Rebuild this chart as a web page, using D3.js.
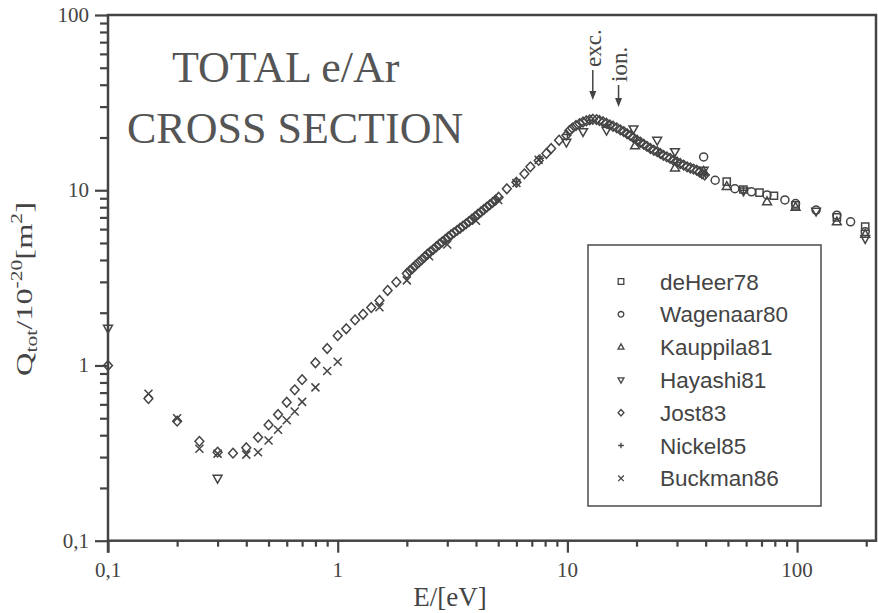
<!DOCTYPE html>
<html><head><meta charset="utf-8">
<script src="https://cdn.jsdelivr.net/npm/d3@7"></script>
<style>body{margin:0;background:#fff}svg{display:block}</style>
</head><body>
<svg id="c" width="878" height="613"></svg>
<script>
// ---------- data ----------
const xTickValues = [0.1, 1, 10, 100];
const xTickLabels = ["0,1", "1", "10", "100"];
const yTickValues = [0.1, 1, 10, 100];
const yTickLabels = ["0,1", "1", "10", "100"];
const seriesNames = ["deHeer78", "Wagenaar80", "Kauppila81", "Hayashi81", "Jost83", "Nickel85", "Buckman86"];
const seriesSymbols = ["square", "circle", "triUp", "triDown", "diamond", "plus", "cross"];

const deHeer78 = [[49.4,11.2],[58.4,10.1],[68.6,9.7],[79.3,9.3],[98.5,8.2],[149,7.0],[198,6.2]];
const wagenaar80 = [[39.2,15.5],[44,11.4],[53.6,10.2],[63.3,9.8],[74,9.4],[88.5,8.8],[98.5,8.4],[121,7.7],[149,7.2],[171,6.6],[198,5.8]];
const kauppila81 = [[19.7,17.9],[29.4,13.4],[39.2,12.8],[49.4,10.5],[74,8.6],[98.5,8.0],[149,6.6],[198,5.6]];
const hayashi81 = [[0.1,1.63],[0.3,0.227],[9.9,18.8],[11.7,21.6],[14.8,22.0],[19.4,22.4],[24.6,19.3],[29.4,16.6],[39.2,13.0],[58.4,9.9],[121,7.6],[198,5.3]];
const jost83 = [
  [0.1,1.0],[0.15,0.647],[0.2,0.481],[0.25,0.369],[0.3,0.32],[0.35,0.316],[0.4,0.339],[0.45,0.389],
  [0.5,0.458],[0.55,0.525],[0.6,0.617],[0.65,0.726],[0.7,0.83],[0.8,1.036],[0.9,1.25],[1.0,1.48],
  [1.09,1.62],[1.19,1.82],[1.29,1.96],[1.40,2.14],[1.52,2.35],[1.65,2.68],[1.80,2.99],
  [2.00,3.35],[2.06,3.47],[2.12,3.59],[2.18,3.72],[2.25,3.87],[2.32,4.01],[2.39,4.16],[2.46,4.31],
  [2.53,4.45],[2.61,4.60],[2.69,4.76],[2.77,4.92],[2.85,5.07],[2.94,5.24],[3.03,5.41],[3.12,5.57],
  [3.21,5.73],[3.31,5.90],[3.41,6.07],[3.51,6.24],[3.62,6.43],[3.73,6.63],[3.84,6.84],[3.96,7.06],
  [4.08,7.29],[4.20,7.51],[4.33,7.76],[4.46,8.01],[4.59,8.25],[4.73,8.52],[4.87,8.80],[5.02,9.12],
  [5.45,10.2],[6.0,11.1],[6.5,12.4],[6.9,13.6],[7.5,14.8],[8.1,16.2],[8.5,17.3],[9.2,19.3],[9.9,20.6],
  [10.2,21.9],[10.5,22.6],[10.9,23.4],[11.3,24.0],[11.7,24.5],[12.1,24.9],[12.5,25.2],[12.9,25.4],
  [13.4,25.3],[13.8,25.0],[14.3,24.6],[14.8,24.1],[15.3,23.6],[15.8,23.2],[16.4,22.7],[17.0,22.1],
  [17.6,21.6],[18.2,21.0],[18.8,20.5],[19.4,19.9],[20.1,19.3],[20.8,18.8],[21.5,18.3],[22.2,17.8],
  [23.0,17.3],[23.8,16.9],[24.6,16.6],[25.4,16.2],[26.2,15.8],[27.1,15.5],[28.0,15.2],[29.0,14.8],
  [30.0,14.5],[31.0,14.2],[32.1,13.9],[33.2,13.6],[34.3,13.4],[35.4,13.2],[36.6,13.0],[37.6,12.7],
  [38.6,12.4],[39.6,12.2]
];
const nickel85 = [[6.0,11.2],[7.6,15.2],[10.0,20.8],[12.5,25.0],[15.0,23.6],[20.0,19.3],[25.0,16.3],[30.0,14.4],[40.0,12.2],[58.4,10.0]];
const buckman86 = [[0.15,0.69],[0.2,0.50],[0.25,0.335],[0.3,0.314],[0.4,0.31],[0.45,0.32],[0.5,0.373],[0.55,0.43],
  [0.6,0.487],[0.65,0.546],[0.7,0.62],[0.8,0.75],[0.9,0.93],[1.0,1.05],[1.52,2.15],[2.0,3.06],[2.5,4.2],
  [3.0,4.9],[4.0,6.7],[5.0,8.8],[6.0,11.0],[7.5,14.9]];
const seriesData = [deHeer78, wagenaar80, kauppila81, hayashi81, jost83, nickel85, buckman86];

const titleLines = ["TOTAL e/Ar", "CROSS SECTION"];
const thresholdE = [12.9, 16.7];
const thresholdLabels = ["exc.", "ion."];

// ---------- drawing ----------
const ink = "#444";
const svg = d3.select("#c");
const L = 108, R = 876, T = 15, B = 540.7;
const x = d3.scaleLog().domain([0.1, 220.6]).range([L, R]);
const y = d3.scaleLog().domain([0.1, 100]).range([B, T]);

function marker(type, s) {
  switch (type) {
    case "square": return `M${-s},${-s}H${s}V${s}H${-s}Z`;
    case "circle": return `M${s},0A${s},${s} 0 1 1 ${-s},0A${s},${s} 0 1 1 ${s},0Z`;
    case "triUp": return `M0,${-s*1.15}L${s*1.05},${s*0.7}L${-s*1.05},${s*0.7}Z`;
    case "triDown": return `M0,${s*1.15}L${s*1.05},${-s*0.7}L${-s*1.05},${-s*0.7}Z`;
    case "diamond": return `M0,${-s*1.15}L${s*1.05},0L0,${s*1.15}L${-s*1.05},0Z`;
    case "plus": return `M${-s},0H${s}M0,${-s}V${s}`;
    case "cross": return `M${-s},${-s}L${s},${s}M${-s},${s}L${s},${-s}`;
  }
}

// frame
svg.append("rect").attr("x", L).attr("y", T).attr("width", R - L).attr("height", B - T)
  .attr("fill", "none").attr("stroke", ink).attr("stroke-width", 2.5);

// x axis ticks
const xAxis = d3.axisBottom(x).tickValues(d3.range(-1, 3).flatMap(e => d3.range(1, 10).map(m => m * Math.pow(10, e))).filter(v => v <= 220))
  .tickSize(6).tickFormat("");
const gx = svg.append("g").attr("transform", `translate(0,${B})`).call(xAxis);
gx.select(".domain").remove();
gx.selectAll(".tick line").attr("stroke", ink).attr("stroke-width", 2.2)
  .attr("y2", d => xTickValues.includes(d) ? 12 : 6);
svg.append("line").attr("x1", L).attr("x2", L).attr("y1", B).attr("y2", B + 12).attr("stroke", ink).attr("stroke-width", 2.5);
svg.selectAll(".xlab").data(xTickValues).enter().append("text")
  .attr("x", d => x(d)).attr("y", 577).attr("text-anchor", "middle")
  .attr("font-family", "Liberation Serif").attr("font-size", 21).attr("fill", ink)
  .text((d, i) => xTickLabels[i]);

// y axis ticks
const yAxis = d3.axisLeft(y).tickValues(d3.range(-1, 2).flatMap(e => d3.range(1, 10).map(m => m * Math.pow(10, e))).concat([100]))
  .tickSize(8).tickFormat("");
const gy = svg.append("g").attr("transform", `translate(${L},0)`).call(yAxis);
gy.select(".domain").remove();
gy.selectAll(".tick line").attr("stroke", ink).attr("stroke-width", 2.2)
  .attr("x2", d => yTickValues.includes(d) ? -13 : -8);
svg.selectAll(".ylab").data(yTickValues).enter().append("text")
  .attr("x", 89).attr("y", d => y(d) + 7).attr("text-anchor", "end")
  .attr("font-family", "Liberation Serif").attr("font-size", 21).attr("fill", ink)
  .text((d, i) => yTickLabels[i]);

// axis titles
svg.append("text").attr("x", 450).attr("y", 606).attr("text-anchor", "middle")
  .attr("font-family", "Liberation Serif").attr("font-size", 27).attr("fill", ink).text("E/[eV]");
const yt = svg.append("text").attr("transform", "translate(32,376) rotate(-90) scale(1.35,1)")
  .attr("font-family", "Liberation Serif").attr("font-size", 24).attr("fill", ink);
yt.append("tspan").text("Q");
yt.append("tspan").attr("font-size", 16).attr("dy", 5).text("tot");
yt.append("tspan").attr("dy", -5).text("/10");
yt.append("tspan").attr("font-size", 16).attr("dy", -10).text("-20");
yt.append("tspan").attr("dy", 10).text("[m");
yt.append("tspan").attr("font-size", 16).attr("dy", -10).text("2");
yt.append("tspan").attr("dy", 10).text("]");

// title
svg.selectAll(".title").data(titleLines).enter().append("text")
  .attr("x", (d, i) => i === 0 ? 172 : 127).attr("y", (d, i) => i === 0 ? 82 : 143)
  .attr("font-family", "Liberation Serif").attr("font-size", 44).attr("fill", "#555").text(d => d);

// threshold arrows
const arrowX = thresholdE.map(e => x(e));
const arrowTop = [70, 85], arrowTip = [100, 107];
thresholdE.forEach((e, i) => {
  const ax = x(e);
  svg.append("line").attr("x1", ax).attr("x2", ax).attr("y1", arrowTop[i]).attr("y2", arrowTip[i] - 6)
    .attr("stroke", ink).attr("stroke-width", 1.5);
  svg.append("path").attr("d", `M${ax - 3.5},${arrowTip[i] - 9}L${ax + 3.5},${arrowTip[i] - 9}L${ax},${arrowTip[i]}Z`).attr("fill", ink);
  svg.append("text").attr("transform", `translate(${ax + 8},${arrowTop[i] - 3}) rotate(-90)`)
    .attr("font-family", "Liberation Serif").attr("font-size", 23).attr("fill", ink).text(thresholdLabels[i]);
});

// data points
seriesData.forEach((data, si) => {
  const type = seriesSymbols[si];
  const s = type === "square" ? 3.6 : type === "circle" ? 4 : (type === "plus" || type === "cross") ? 4 : 4.2;
  svg.append("g").selectAll("path").data(data).enter().append("path")
    .attr("transform", d => `translate(${x(d[0])},${y(d[1])})`)
    .attr("d", marker(type, s)).attr("fill", "none").attr("stroke", ink).attr("stroke-width", 1.5);
});

// legend
svg.append("rect").attr("x", 588).attr("y", 245).attr("width", 233).attr("height", 261)
  .attr("fill", "#fff").attr("stroke", "#555").attr("stroke-width", 1.6);
const lg = svg.append("g").selectAll("g").data(seriesNames).enter().append("g")
  .attr("transform", (d, i) => `translate(621,${281.5 + i * 32.8})`);
lg.append("path").attr("d", (d, i) => marker(seriesSymbols[i], 2.8)).attr("fill", "none").attr("stroke", ink).attr("stroke-width", 1.3);
lg.append("text").attr("x", 39).attr("y", 8).attr("font-family", "Liberation Sans").attr("font-size", 22.5)
  .attr("fill", ink).text(d => d);
</script>
</body></html>
